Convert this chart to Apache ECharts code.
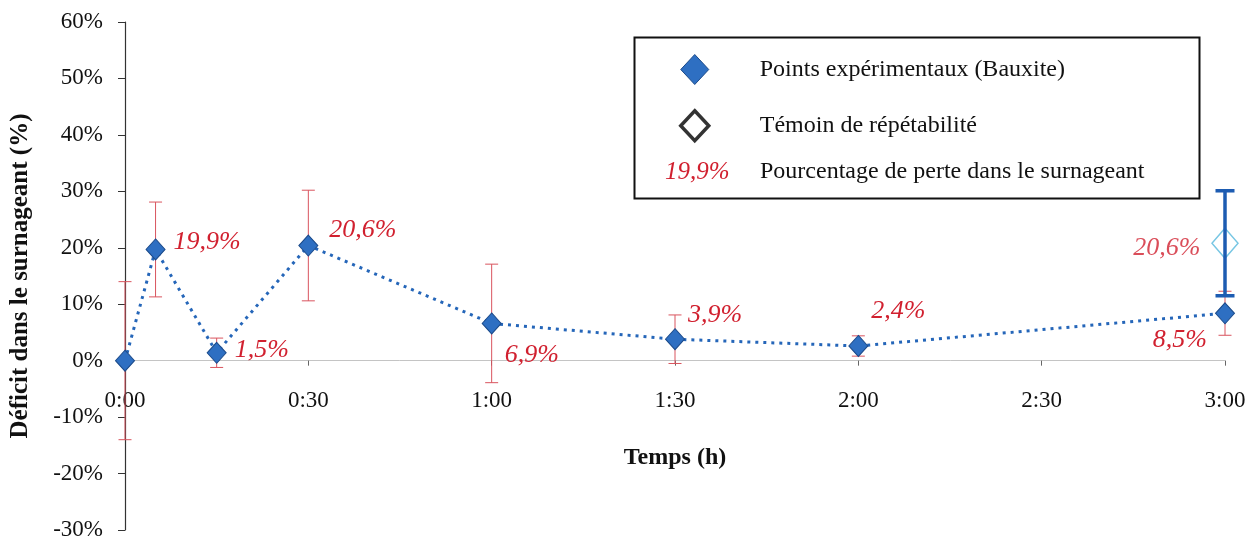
<!DOCTYPE html>
<html>
<head>
<meta charset="utf-8">
<script src="https://cdn.jsdelivr.net/npm/echarts@6/dist/echarts.min.js"></script>
<style>
html,body{margin:0;padding:0;background:#fff;}
#chart{width:1259px;height:543px;}
</style>
</head>
<body>
<div id="chart"></div>
<script>
// ---- data ----
const times = [0, 5, 15, 30, 60, 90, 120, 180];            // minutes
const deficit = [0, 19.7, 1.4, 20.4, 6.6, 3.8, 2.6, 8.4];   // %
const errAmp = [14, 8.4, 2.6, 9.8, 10.5, 4.3, 1.8, 3.9];    // ± %
const lossLabels = ['', '19,9%', '1,5%', '20,6%', '6,9%', '3,9%', '2,4%', '8,5%'];
const temoinTime = [180];
const temoinValue = [20.8];
const temoinErr = [9.3];
const temoinLabels = ['20,6%'];
const xTickLabels = ['0:00', '0:30', '1:00', '1:30', '2:00', '2:30', '3:00'];
const yTicks = [-30, -20, -10, 0, 10, 20, 30, 40, 50, 60];

const FONT = 'Liberation Serif';
const RED = '#d1202f';

// label placement (style only)
const labelPlace = [
  null,
  {position: 'right', distance: 8, offset: [0, -7]},
  {position: 'right', distance: 8, offset: [0, -3]},
  {position: 'right', distance: 11, offset: [0, -15]},
  {position: 'right', distance: 3, offset: [0, 32]},
  {position: 'right', distance: 3, offset: [0, -24]},
  {position: 'right', distance: 3, offset: [0, -35]},
  {position: 'left', distance: 8, offset: [0, 27]}
];

const mainData = times.map((t, i) => {
  const item = {value: [t, deficit[i]]};
  if (labelPlace[i] && lossLabels[i]) {
    item.label = Object.assign({show: true, formatter: lossLabels[i]}, labelPlace[i]);
  }
  return item;
});
const errData = times.map((t, i) => [t, deficit[i] - errAmp[i], deficit[i] + errAmp[i]]);
const temoinData = temoinTime.map((t, i) => ({
  value: [t, temoinValue[i]],
  label: {show: true, formatter: temoinLabels[i], position: 'left', distance: 11, offset: [0, 5]}
}));
const temoinErrData = temoinTime.map((t, i) => [t, temoinValue[i] - temoinErr[i], temoinValue[i] + temoinErr[i]]);

function makeErrRender(color, lw, cap) {
  return function (params, api) {
    const x = api.value(0), lo = api.value(1), hi = api.value(2);
    const a = api.coord([x, hi]);
    const b = api.coord([x, lo]);
    const w = cap / 2;
    const st = {stroke: color, lineWidth: lw};
    return {
      type: 'group',
      children: [
        {type: 'line', shape: {x1: a[0], y1: a[1], x2: b[0], y2: b[1]}, style: st},
        {type: 'line', shape: {x1: a[0] - w, y1: a[1], x2: a[0] + w, y2: a[1]}, style: st},
        {type: 'line', shape: {x1: b[0] - w, y1: b[1], x2: b[0] + w, y2: b[1]}, style: st}
      ]
    };
  };
}

// plot area geometry
const G_LEFT = 125, G_RIGHT = 34, G_TOP = 22, G_BOTTOM = 13, H = 543;
const yMin = -30, yMax = 60;
const plotH = H - G_TOP - G_BOTTOM;
const zeroY = G_TOP + plotH * (yMax - 0) / (yMax - yMin);

const chart = echarts.init(document.getElementById('chart'), null, {renderer: 'canvas'});
const option = {
  backgroundColor: '#ffffff',
  animation: false,
  textStyle: {fontFamily: FONT},
  grid: [
    {left: G_LEFT, right: G_RIGHT, top: G_TOP, bottom: G_BOTTOM, containLabel: false, outerBoundsMode: 'none'},
    {left: G_LEFT, right: G_RIGHT, top: G_TOP, bottom: H - zeroY, containLabel: false, outerBoundsMode: 'none'}
  ],
  xAxis: [
    {
      gridIndex: 0, type: 'value', min: 0, max: 180, interval: 30, show: false
    },
    {
      gridIndex: 1, type: 'value', min: 0, max: 180, interval: 30,
      name: 'Temps (h)', nameLocation: 'middle', nameGap: 85,
      nameTextStyle: {fontFamily: FONT, fontSize: 24, fontWeight: 'bold', color: '#111'},
      axisLine: {show: true, onZero: false, lineStyle: {color: '#c4c4c4', width: 1}},
      axisTick: {show: true, length: 5, lineStyle: {color: '#666'}},
      axisLabel: {
        margin: 29, fontFamily: FONT, fontSize: 23, color: '#111',
        formatter: v => xTickLabels[Math.round(v / 30)]
      },
      splitLine: {show: false}
    }
  ],
  yAxis: [
    {
      gridIndex: 0, type: 'value', min: yMin, max: yMax, interval: 10,
      name: 'Déficit dans le surnageant (%)', nameLocation: 'middle', nameGap: 92,
      nameTextStyle: {fontFamily: FONT, fontSize: 25, fontWeight: 'bold', color: '#111'},
      axisLine: {show: true, onZero: false, lineStyle: {color: '#333', width: 1.2}},
      axisTick: {show: true, inside: false, length: 7, lineStyle: {color: '#333'}},
      axisLabel: {
        margin: 22, fontFamily: FONT, fontSize: 23, color: '#111',
        formatter: v => (yTicks.indexOf(v) >= 0 ? v + '%' : '')
      },
      splitLine: {show: false}
    },
    {
      gridIndex: 1, type: 'value', min: 0, max: yMax, show: false
    }
  ],
  legend: {
    orient: 'vertical', left: 674, top: 49, itemWidth: 28, itemHeight: 30, itemGap: 24,
    textStyle: {fontFamily: FONT, fontSize: 24, color: '#111', padding: [0, 0, 0, 46]},
    data: [
      {name: 'Points expérimentaux (Bauxite)', icon: 'diamond',
        itemStyle: {color: '#2e6fc2', borderColor: '#1b4a8a', borderWidth: 1}},
      {name: 'Témoin de répétabilité', icon: 'diamond',
        itemStyle: {color: '#ffffff', borderColor: '#000000', borderWidth: 3.5}}
    ]
  },
  graphic: [
    {type: 'rect', left: 632, top: 35, shape: {width: 565, height: 161},
      style: {fill: 'none', stroke: '#111', lineWidth: 2}, z: 10},
    {type: 'text', x: 665, y: 172, z: 10,
      style: {text: '19,9%', fill: RED, font: 'italic 25px "Liberation Serif"', verticalAlign: 'middle'}},
    {type: 'text', x: 760, y: 172, z: 10,
      style: {text: 'Pourcentage de perte dans le surnageant', fill: '#111', font: '24px "Liberation Serif"', verticalAlign: 'middle'}}
  ],
  series: [
    {
      type: 'custom', name: 'err', silent: true, z: 1,
      xAxisIndex: 0, yAxisIndex: 0,
      renderItem: makeErrRender('#d9545e', 1, 13),
      encode: {x: 0, y: [1, 2]},
      data: errData
    },
    {
      type: 'line', name: 'Points expérimentaux (Bauxite)', z: 3,
      xAxisIndex: 0, yAxisIndex: 0,
      symbol: 'diamond', symbolSize: [19, 21],
      itemStyle: {color: '#2e6fc2', borderColor: '#1b4a8a', borderWidth: 1},
      lineStyle: {color: '#2566b9', width: 3, type: [3, 5]},
      label: {fontFamily: FONT, fontSize: 26, fontStyle: 'italic', color: RED},
      data: mainData
    },
    {
      type: 'scatter', name: 'Témoin de répétabilité', z: 3,
      xAxisIndex: 0, yAxisIndex: 0,
      symbol: 'diamond', symbolSize: [26, 30],
      itemStyle: {color: 'rgba(255,255,255,0)', borderColor: '#55b8dc', borderWidth: 1.5},
      label: {fontFamily: FONT, fontSize: 26, fontStyle: 'italic', color: RED},
      data: temoinData
    },
    {
      type: 'custom', name: 'errT', silent: true, z: 4,
      xAxisIndex: 0, yAxisIndex: 0,
      renderItem: makeErrRender('#1d5cb2', 3.5, 19),
      encode: {x: 0, y: [1, 2]},
      data: temoinErrData
    }
  ]
};
chart.setOption(option);
</script>
</body>
</html>
